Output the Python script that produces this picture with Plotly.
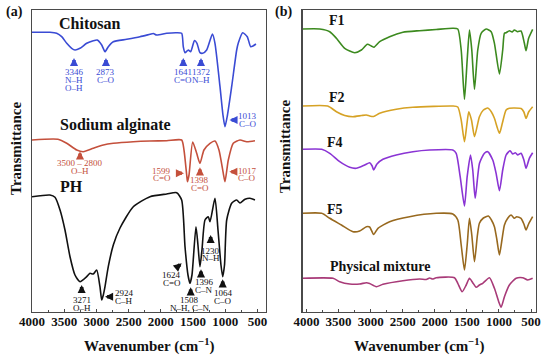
import plotly.graph_objects as go

W, H = 550, 356

# ---------------- Panel (a) data ----------------
chitosan_wn = [4000, 3721, 3617, 3539, 3461, 3384, 3333, 3255, 3151, 3049, 2987, 2918, 2867, 2816, 2738,
               2530, 2324, 2169, 2117, 2065, 1909, 1754, 1677, 1652, 1625, 1574, 1537, 1478, 1439, 1393,
               1351, 1289, 1199, 1160, 1082, 1036, 1005, 966, 901, 823, 798, 730, 659, 606, 570, 524]
chitosan_t = [279.2, 279.2, 278.2, 274.8, 268.2, 263.2, 261.5, 263.2, 268.2, 270.8, 271.5, 266.5, 259.8, 264.8, 269.8,
              272.2, 274.8, 277.2, 278.0, 276.5, 278.2, 278.8, 278.2, 264.8, 258.8, 261.5, 259.8, 271.0, 268.2, 258.8,
              258.2, 261.5, 277.5, 268.2, 224.8, 196.5, 184.8, 196.5, 224.8, 261.5, 268.5, 278.8, 274.8, 264.8, 265.5, 267.5]

alginate_wn = [4000, 3597, 3461, 3306, 3204, 3049, 2893, 2738, 2428, 2169, 1909, 1677, 1641, 1599, 1587,
               1563, 1506, 1444, 1393, 1331, 1237, 1160, 1098, 1031, 1005, 953, 876, 772, 668, 539]
alginate_t = [171.5, 172.2, 168.2, 161.5, 159.8, 163.2, 166.5, 168.2, 169.8, 170.5, 170.8, 171.5, 161.5, 136.5, 129.8,
              136.5, 169.5, 158.2, 148.2, 161.5, 168.2, 170.5, 161.5, 138.2, 129.8, 151.5, 168.2, 171.5, 169.8, 170.8]

ph_wn = [4000, 3721, 3643, 3565, 3488, 3410, 3333, 3255, 3151, 3100, 3049, 2996, 2945, 2918, 2893, 2867,
         2816, 2738, 2634, 2428, 2169, 1909, 1754, 1677, 1625, 1579, 1548, 1517, 1455, 1424, 1393, 1362,
         1315, 1264, 1237, 1160, 1113, 1067, 1040, 1012, 978, 901, 823, 772, 694, 617, 539]
ph_t = [114.8, 116.5, 114.2, 101.5, 81.5, 54.8, 36.5, 29.8, 34.8, 38.2, 37.5, 41.5, 24.8, 11.5, 16.5, 24.8,
        44.8, 66.5, 83.5, 104.8, 114.8, 117.5, 118.8, 111.5, 64.8, 36.5, 28.2, 36.5, 84.8, 66.5, 44.8, 61.5,
        91.5, 94.8, 89.8, 113.2, 81.5, 46.5, 34.8, 46.5, 91.5, 108.2, 111.5, 108.5, 112.2, 113.2, 111.5]

# ---------------- Panel (b) data ----------------
f1_wn = [4062, 3793, 3637, 3533, 3404, 3248, 3144, 3051, 2989, 2948, 2859, 2704, 2497, 2237, 1977, 1719, 1641,
         1588, 1537, 1495, 1459, 1423, 1381, 1330, 1277, 1199, 1121, 1070, 992, 941, 914, 888, 837, 795, 759,
         708, 655, 603, 577, 537, 474]
f1_t = [282.5, 282.5, 279.8, 273.2, 263.2, 258.8, 261.5, 267.2, 265.5, 264.2, 269.8, 274.8, 279.2, 280.8, 282.0,
        283.2, 282.5, 261.5, 212.2, 251.5, 281.5, 261.5, 222.2, 261.5, 278.2, 282.5, 279.8, 268.2, 237.5, 261.5,
        278.2, 278.8, 280.8, 279.5, 281.5, 279.8, 280.5, 268.2, 260.8, 273.2, 282.2]

f2_wn = [4062, 3669, 3533, 3404, 3275, 3140, 3066, 3015, 2953, 2859, 2600, 2341, 1719, 1641, 1588, 1537, 1501,
         1470, 1428, 1381, 1335, 1304, 1242, 1174, 1117, 1070, 992, 946, 888, 837, 759, 655, 611, 577, 537, 474]
f2_t = [205.5, 205.5, 199.8, 196.0, 194.8, 196.0, 196.5, 195.5, 195.0, 198.2, 202.2, 204.2, 205.5, 204.5, 191.5,
        169.8, 186.5, 199.8, 191.5, 174.8, 186.5, 194.8, 201.5, 203.5, 199.5, 193.2, 178.2, 188.5, 201.5, 203.2,
        203.5, 203.0, 199.5, 193.2, 199.5, 204.8]

f4_wn = [4062, 3762, 3637, 3482, 3326, 3222, 3093, 3015, 2976, 2953, 2901, 2808, 2600, 2341, 2081, 1719, 1666,
         1604, 1537, 1495, 1443, 1408, 1370, 1303, 1226, 1174, 1096, 1044, 992, 941, 888, 826, 785, 744, 708,
         655, 611, 577, 526, 474]
f4_t = [162.2, 162.2, 158.2, 149.8, 144.2, 143.2, 146.5, 148.8, 145.5, 141.5, 147.5, 152.2, 156.5, 159.8, 161.5,
        161.5, 158.2, 134.8, 105.5, 134.8, 156.5, 141.5, 113.2, 148.2, 158.2, 159.8, 151.5, 138.2, 120.8, 141.5,
        156.5, 160.8, 157.5, 158.8, 156.5, 158.2, 151.5, 143.2, 153.2, 158.8]

f5_wn = [4062, 3762, 3637, 3455, 3275, 3171, 3066, 3015, 2953, 2886, 2704, 2393, 1977, 1719, 1641, 1588, 1537,
         1495, 1459, 1423, 1381, 1335, 1304, 1242, 1164, 1117, 1070, 1031, 992, 953, 914, 863, 810, 759, 723,
         655, 611, 577, 537, 474]
f5_t = [98.2, 98.2, 93.2, 86.5, 79.8, 80.5, 84.8, 84.5, 77.0, 83.2, 89.8, 94.8, 98.2, 97.5, 91.5, 66.5, 41.5,
        66.5, 93.2, 76.5, 49.8, 76.5, 88.2, 93.5, 95.5, 91.5, 84.8, 71.5, 56.5, 71.5, 86.5, 93.2, 96.5, 93.2, 94.8,
        93.2, 87.5, 81.5, 87.5, 94.8]

pm_wn = [4062, 3586, 3482, 3326, 3171, 3066, 3015, 2911, 2808, 2497, 2237, 2133, 2081, 2035, 1977, 1692, 1641,
         1573, 1510, 1459, 1408, 1355, 1304, 1252, 1148, 1070, 1003, 966, 914, 837, 732, 630, 552, 474]
pm_t = [33.2, 33.2, 29.8, 27.5, 27.5, 28.8, 28.0, 24.8, 27.2, 30.8, 32.5, 32.0, 33.5, 32.5, 33.8, 33.8, 28.2,
        19.8, 26.5, 33.2, 28.8, 24.2, 26.5, 28.2, 33.8, 23.2, 9.8, 4.2, 14.8, 26.5, 33.2, 33.8, 31.5, 33.2]

x_tick_vals = [4000, 3500, 3000, 2500, 2000, 1500, 1000, 500]

C_CHI = "#3a4bd4"
C_ALG = "#c4503c"
C_PH = "#111111"
C_F1 = "#3c8a1f"
C_F2 = "#d6a225"
C_F4 = "#8a34d4"
C_F5 = "#98691f"
C_PM = "#a83a78"

fig = go.Figure()

def add_line(x, y, color, xa, ya):
    fig.add_trace(go.Scatter(x=x, y=y, mode="lines", xaxis=xa, yaxis=ya,
                             line=dict(color=color, width=1.6, shape="spline", smoothing=0.6),
                             showlegend=False, hoverinfo="skip"))

add_line(chitosan_wn, chitosan_t, C_CHI, "x", "y")
add_line(alginate_wn, alginate_t, C_ALG, "x", "y")
add_line(ph_wn, ph_t, C_PH, "x", "y")
add_line(f1_wn, f1_t, C_F1, "x2", "y2")
add_line(f2_wn, f2_t, C_F2, "x2", "y2")
add_line(f4_wn, f4_t, C_F4, "x2", "y2")
add_line(f5_wn, f5_t, C_F5, "x2", "y2")
add_line(pm_wn, pm_t, C_PM, "x2", "y2")

SERIF = "Liberation Serif"
FRAME = "#4a4a4a"

def xaxis_cfg(dom, rng):
    return dict(domain=dom, range=rng, showgrid=False, zeroline=False, automargin=False,
                showline=True, mirror=True, linecolor=FRAME, linewidth=1.2,
                ticks="inside", ticklen=3, tickcolor=FRAME, tickwidth=1,
                tickvals=x_tick_vals, ticklabelstandoff=-2,
                tickfont=dict(family=SERIF, size=13, color="#111", weight="bold"),
                minor=dict(ticks="inside", ticklen=2, dtick=250, tickcolor=FRAME, tick0=0),
                fixedrange=True)

def yaxis_cfg(anchor):
    return dict(domain=[1 - 311.5 / H, 1 - 10 / H], range=[0, 301.5], anchor=anchor, automargin=False,
                showgrid=False, zeroline=False, showticklabels=False, ticks="",
                showline=True, mirror=True, linecolor=FRAME, linewidth=1.2, fixedrange=True)

fig.update_layout(
    width=W, height=H, margin=dict(l=0, r=0, t=0, b=0, autoexpand=False),
    paper_bgcolor="white", plot_bgcolor="white",
    xaxis=dict(**xaxis_cfg([32 / W, 266 / W], [4000, 368]), anchor="y"),
    yaxis=yaxis_cfg("x"),
    xaxis2=dict(**xaxis_cfg([302.5 / W, 536 / W], [4062, 422]), anchor="y2"),
    yaxis2=yaxis_cfg("x2"),
)

ann = []

def ptext(px, py, text, size, color="#111", xanchor="center", textangle=0):
    ann.append(dict(x=px / W, y=1 - py / H, xref="paper", yref="paper", text=text, showarrow=False,
                    xanchor=xanchor, yanchor="middle", textangle=textangle,
                    font=dict(family=SERIF, size=size, color=color, weight="bold")))

# panel letters, axis titles, series names
ptext(4, 12, "(a)", 14, xanchor="left")
ptext(273, 12, "(b)", 14, xanchor="left")
for cx in (149, 419):
    ptext(cx, 345, "Wavenumber (cm<sup>−1</sup>)", 15)
ptext(16, 149, "Transmittance", 15, textangle=-90)
ptext(285, 147, "Transmittance", 15, textangle=-90)
ptext(57, 24, "Chitosan", 16, xanchor="left")
ptext(58, 125, "Sodium alginate", 16, xanchor="left")
ptext(58, 186, "PH", 16, xanchor="left")
ptext(327, 20, "F1", 14, xanchor="left")
ptext(327, 97, "F2", 14, xanchor="left")
ptext(325, 142, "F4", 14, xanchor="left")
ptext(325, 209, "F5", 14, xanchor="left")
ptext(328, 266, "Physical mixture", 14, xanchor="left")

# peak annotations: (arrow tip wn, tip value, direction, text lines, text wn, text value, colour)
peak_notes = [
    (3348, 253.5, "up", ["3346", "N–H", "O–H"], 3348, 231.5, C_CHI),
    (2852, 253.5, "up", ["2873", "C–O"], 2852, 235.5, C_CHI),
    (1652, 253.5, "up", ["1641", "C=O"], 1660, 235.5, C_CHI),
    (1377, 253.5, "up", ["1372", "N–H"], 1370, 235.5, C_CHI),
    (935, 191.5, "left", ["1013", "C–O"], 648, 191.5, C_CHI),
    (3255, 160.0, "up", ["3500 – 2800", "O–H"], 3255, 144.5, C_ALG),
    (1641, 138.2, "right", ["1599", "C=O"], 1987, 137.0, C_ALG),
    (1393, 144.2, "up", ["1398", "C=O"], 1393, 127.5, C_ALG),
    (938, 139.8, "left", ["1017", "C–O"], 659, 137.0, C_ALG),
    (3229, 26.5, "up", ["3271", "O–H"], 3229, 7.8, C_PH),
    (2867, 14.8, "left", ["2924", "C–H"], 2572, 14.5, C_PH),
    (1677, 48.2, "diag", ["1624", "C=O"], 1832, 32.7, C_PH),
    (1537, 24.2, "up", ["1508", "N–H, C–N"], 1548, 7.8, C_PH),
    (1377, 42.2, "up", ["1396", "C–N"], 1330, 25.2, C_PH),
    (1227, 76.5, "up", ["1230", "N–H"], 1227, 57.0, C_PH),
    (1040, 32.2, "up", ["1064", "C–O"], 1031, 14.8, C_PH),
]

offsets = {"up": (0, 9), "left": (9, 0), "right": (-9, 0), "diag": (-7, 6)}
for tip_wn, tip_v, d, lines, t_wn, t_v, col in peak_notes:
    ax_, ay_ = offsets[d]
    ann.append(dict(x=tip_wn, y=tip_v, xref="x", yref="y", ax=ax_, ay=ay_, text="", showarrow=True,
                    arrowhead=2, arrowsize=0.45, arrowwidth=3.6, arrowcolor=col, standoff=0))
    n = len(lines)
    for i, line in enumerate(lines):
        ann.append(dict(x=t_wn, y=t_v, xref="x", yref="y", text=line, showarrow=False,
                        yshift=-(i - (n - 1) / 2) * 7.8, xanchor="center", yanchor="middle",
                        font=dict(family=SERIF, size=9, color=col)))

fig.update_layout(annotations=ann)
fig.write_html("out.html", config={"displayModeBar": False, "staticPlot": True},
               post_script="document.body.style.margin='0';document.body.style.overflow='hidden';")
